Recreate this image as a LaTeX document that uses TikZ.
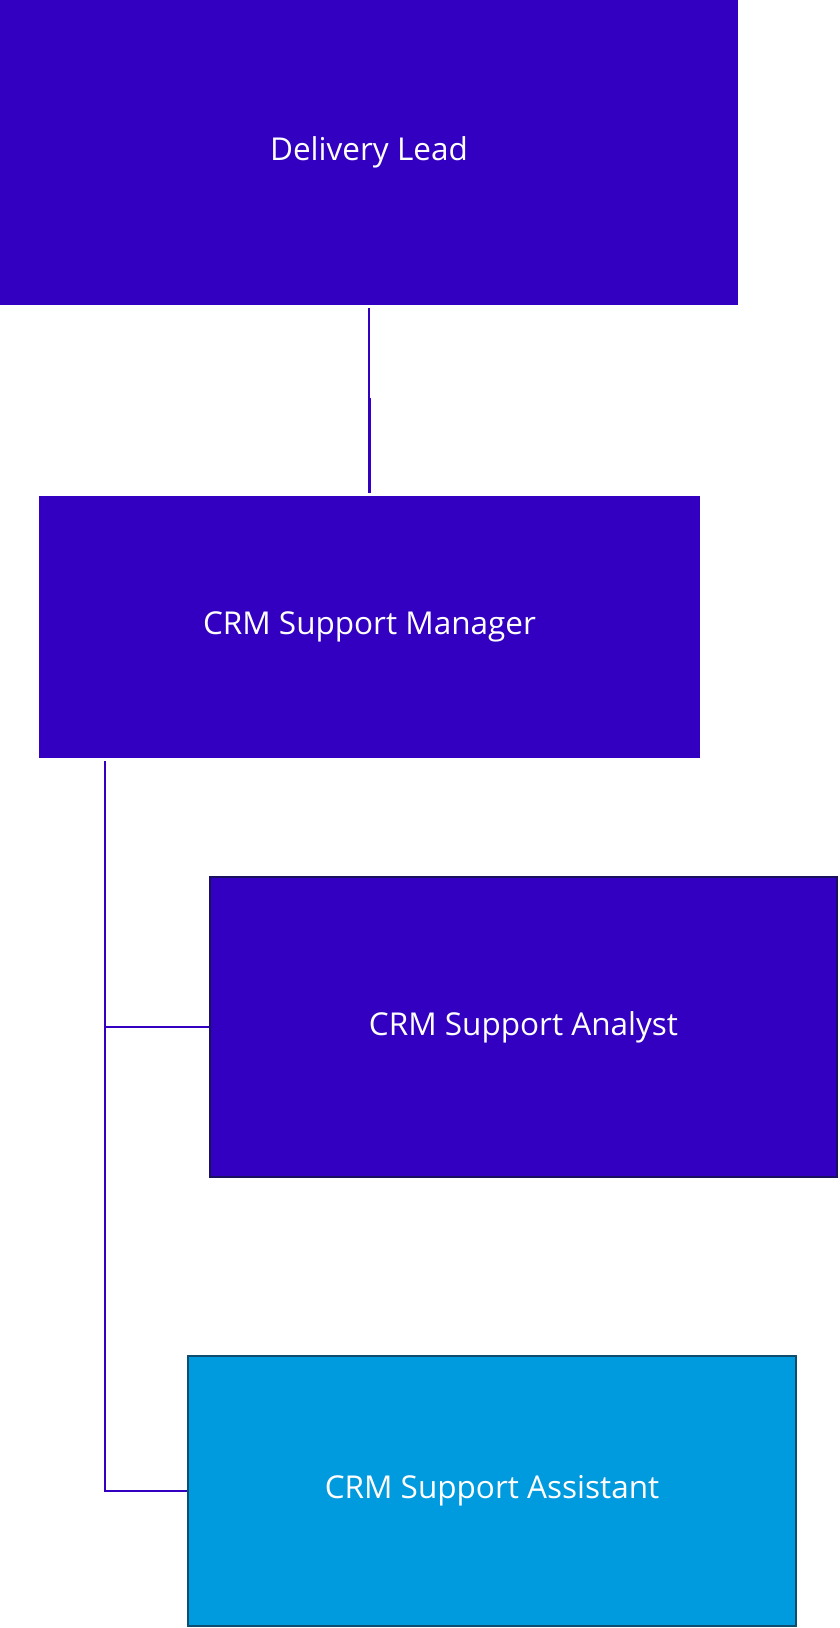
\documentclass[tikz,border=0pt]{standalone}
\usepackage{fontspec}
\setmainfont{Open Sans}
\definecolor{crmpurple}{HTML}{3300C2}
\definecolor{crmblue}{HTML}{009ADE}
\definecolor{crmnavy}{HTML}{1A1060}
\definecolor{crmteal}{HTML}{0E4D6E}
\tikzset{
  role/.style={fill=crmpurple, text=white, inner sep=0pt, font=\fontsize{31.5}{38}\selectfont},
  link/.style={draw=crmpurple, line width=2.5pt},
}

\begin{document}
\begin{tikzpicture}[x=1pt,y=-1pt]
\useasboundingbox (0,0) rectangle (840,1628);
\node[role, minimum width=738pt, minimum height=305pt] (L) at (369,152.5) {Delivery Lead};
\node[role, minimum width=661pt, minimum height=262pt] (M) at (369.5,627) {CRM Support Manager};
\node[role, draw=crmnavy, line width=2pt, minimum width=627pt, minimum height=300pt] (A1) at (523.5,1027) {CRM Support Analyst};
\node[role, fill=crmblue, draw=crmteal, line width=2pt, minimum width=608pt, minimum height=270pt] (A2) at (492,1491) {CRM Support Assistant};
\coordinate (T) at (105,761);
\draw[link, shorten <=3pt, shorten >=3pt] (L.south) -- ++(0,94) -| (M.north);
\draw[link] (T) |- (A1.west);
\draw[link] (T) |- (A2.west);
\end{tikzpicture}
\end{document}
